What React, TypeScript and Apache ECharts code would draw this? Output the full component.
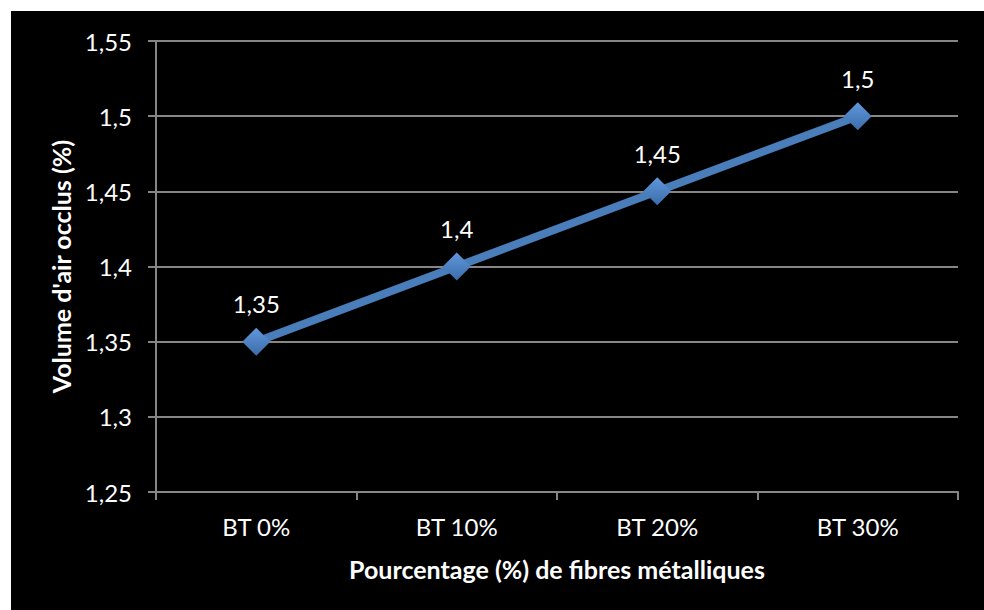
import React, { useEffect, useRef } from "react";
import * as echarts from "echarts";

const categories = ["BT 0%", "BT 10%", "BT 20%", "BT 30%"];
const airVolume = [1.35, 1.4, 1.45, 1.5];
const xTitle = "Pourcentage (%) de fibres métalliques";
const yTitle = "Volume d'air occlus (%)";

const fmt = (v: number) => String(parseFloat(v.toFixed(2))).replace(".", ",");
const FONT = "Lato";

export default function App() {
  const ref = useRef<HTMLDivElement>(null);
  useEffect(() => {
    document.body.style.margin = "0";
    const chart = echarts.init(ref.current!, undefined, { renderer: "svg" });
    chart.setOption({
      animation: false,
      backgroundColor: "#000000",
      textStyle: { fontFamily: FONT },
      grid: { left: 145, top: 30, right: 26, bottom: 118 },
      xAxis: {
        type: "category",
        data: categories,
        boundaryGap: true,
        name: xTitle,
        nameLocation: "middle",
        nameGap: 64,
        nameTextStyle: { color: "#ffffff", fontSize: 25, fontWeight: "bold", fontFamily: FONT },
        axisLine: { lineStyle: { color: "#868686", width: 2 } },
        axisTick: { show: true, length: 8, alignWithLabel: false, lineStyle: { color: "#868686", width: 2 } },
        axisLabel: { color: "#ffffff", fontSize: 24, margin: 22, fontFamily: FONT },
      },
      yAxis: {
        type: "value",
        min: 1.25,
        max: 1.55,
        interval: 0.05,
        name: yTitle,
        nameLocation: "middle",
        nameGap: 76,
        nameRotate: 90,
        nameTextStyle: { color: "#ffffff", fontSize: 25, fontWeight: "bold", fontFamily: FONT },
        axisLine: { show: true, lineStyle: { color: "#868686", width: 2 } },
        axisTick: { show: true, length: 8, lineStyle: { color: "#868686", width: 2 } },
        axisLabel: { color: "#ffffff", fontSize: 24, margin: 24, fontFamily: FONT, formatter: (v: number) => fmt(v) },
        splitLine: { show: true, lineStyle: { color: "#868686", width: 2 } },
      },
      series: [
        {
          type: "line",
          data: airVolume,
          symbol: "diamond",
          symbolSize: 28,
          lineStyle: { color: "#4a7ebb", width: 8 },
          itemStyle: {
            color: new echarts.graphic.LinearGradient(0, 0, 0, 1, [
              { offset: 0, color: "#6098dc" },
              { offset: 1, color: "#3b6ca8" },
            ]),
          },
          label: {
            show: true,
            position: "top",
            distance: 12,
            color: "#ffffff",
            fontSize: 24,
            fontFamily: FONT,
            formatter: (p: any) => fmt(p.value),
          },
        },
      ],
    });
    return () => chart.dispose();
  }, []);
  return (
    <div style={{ width: 984, height: 610, background: "#ffffff", position: "relative" }}>
      <div ref={ref} style={{ position: "absolute", left: 11, top: 11, width: 973, height: 599 }} />
    </div>
  );
}
